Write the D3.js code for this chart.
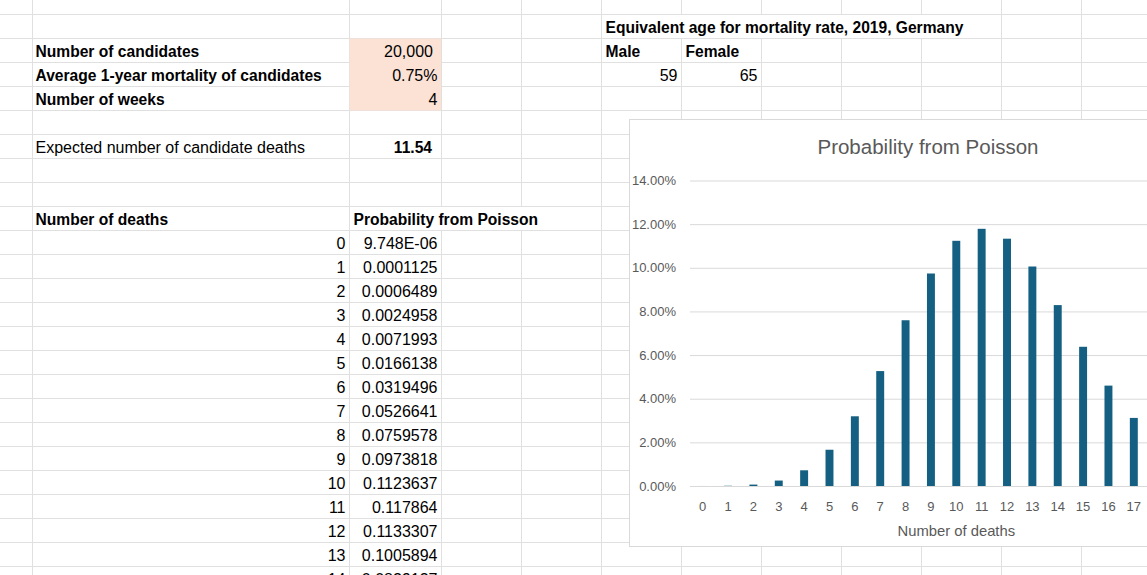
<!DOCTYPE html>
<html>
<head>
<meta charset="utf-8">
<script src="https://cdn.jsdelivr.net/npm/d3@7"></script>
<style>
  body { margin: 0; background: #fff; }
  svg { display: block; font-family: "Liberation Sans", Arial, sans-serif; }
</style>
</head>
<body>
<div id="sheet"></div>
<script>
// inputs block
var inputLabels = ["Number of candidates", "Average 1-year mortality of candidates", "Number of weeks"];
var inputValues = ["20,000", "0.75%", "4"];
var expectedLabel = "Expected number of candidate deaths";
var expectedValue = "11.54";

// equivalent age block
var ageTitle = "Equivalent age for mortality rate, 2019, Germany";
var ageHeaders = ["Male", "Female"];
var ageValues = ["59", "65"];

// table as shown in the cells
var tableDeaths = [0, 1, 2, 3, 4, 5, 6, 7, 8, 9, 10, 11, 12, 13, 14];
var tableProbs = ["9.748E-06", "0.0001125", "0.0006489", "0.0024958", "0.0071993",
    "0.0166138", "0.0319496", "0.0526641", "0.0759578", "0.0973818",
    "0.1123637", "0.117864", "0.1133307", "0.1005894", "0.0829137"];

// chart series
var deaths = ["0", "1", "2", "3", "4", "5", "6", "7", "8", "9", "10", "11", "12", "13", "14", "15", "16", "17"];
var probs = [0.000009748, 0.0001125, 0.0006489, 0.0024958, 0.0071993, 0.0166138,
    0.0319496, 0.0526641, 0.0759578, 0.0973818, 0.1123637, 0.117864,
    0.1133307, 0.1005894, 0.0829, 0.0638, 0.0460, 0.0312];
var yTicks = [0, 0.02, 0.04, 0.06, 0.08, 0.10, 0.12, 0.14];

var W = 1147, H = 575;
var colLines = [32, 349, 441, 521, 601, 681, 761, 841, 921, 1001, 1081];
var rowH = 24, row0 = 14.5;
function rowLine(k) { return row0 + rowH * k; }
function baseline(k) { return rowLine(k) - 5.5; }

var svg = d3.select("#sheet").append("svg")
    .attr("width", W)
    .attr("height", H);

var grid = svg.append("g").attr("stroke", "#e0e0e0").attr("stroke-width", 1);

// horizontal cell lines
for (var k = 0; k < 24; k++) {
    grid.append("line")
        .attr("x1", 0).attr("x2", W)
        .attr("y1", rowLine(k)).attr("y2", rowLine(k));
}

// vertical cell lines, skipped where text overflows into a neighbour
function hidden(x, k) {
    if (k === 1 && x > 601 && x < 1001) return true;     // Equivalent age...
    if (k === 9 && (x === 441 || x === 521)) return true; // Probability from Poisson
    return false;
}
colLines.forEach(function(x) {
    for (var k = 0; k < 25; k++) {
        if (hidden(x, k)) continue;
        var y1 = k === 0 ? 0 : rowLine(k - 1);
        var y2 = Math.min(rowLine(k), H);
        grid.append("line")
            .attr("x1", x + 0.5).attr("x2", x + 0.5)
            .attr("y1", y1).attr("y2", y2);
    }
});

// peach input cells
svg.append("rect")
    .attr("x", 349.5).attr("y", rowLine(1))
    .attr("width", 91.5).attr("height", rowH * 3)
    .attr("fill", "#fbe2d5");

var cells = svg.append("g").attr("font-size", "16px").attr("fill", "#000");

function cell(x, k, txt, anchor, bold) {
    cells.append("text")
        .attr("x", x)
        .attr("y", baseline(k))
        .attr("text-anchor", anchor || "start")
        .attr("font-weight", bold ? "bold" : "normal")
        .attr("font-size", bold ? "15.6px" : "16px")
        .text(txt);
}

inputLabels.forEach(function(d, i) { cell(35.5, i + 2, d, "start", true); });
inputValues.forEach(function(d, i) { cell(i === 0 ? 433 : 437.5, i + 2, d, "end", false); });
cell(35.5, 6, expectedLabel, "start", false);
cell(432, 6, expectedValue, "end", true);

cell(605.5, 1, ageTitle, "start", true);
cell(605.5, 2, ageHeaders[0], "start", true);
cell(685.5, 2, ageHeaders[1], "start", true);
cell(677.5, 3, ageValues[0], "end", false);
cell(757.5, 3, ageValues[1], "end", false);

cell(35.5, 9, "Number of deaths", "start", true);
cell(353.5, 9, "Probability from Poisson", "start", true);
tableDeaths.forEach(function(d, i) {
    cell(345.5, 10 + i, d, "end", false);
    cell(437.5, 10 + i, tableProbs[i], "end", false);
});

// ---- chart ----
var chart = svg.append("g");
chart.append("rect")
    .attr("x", 629.5).attr("y", 119.5)
    .attr("width", 600).attr("height", 427)
    .attr("fill", "#fff")
    .attr("stroke", "#d9d9d9");

var plotLeft = 690, plotRight = 1146.5;
var x = d3.scaleBand()
    .domain(deaths)
    .range([plotLeft, plotRight])
    .paddingInner(0.6865)
    .paddingOuter(0.34325);

var y = d3.scaleLinear()
    .domain([0, 0.14])
    .range([486, 180.5]);

var yAxisCall = d3.axisLeft(y)
    .tickValues(yTicks)
    .tickFormat(d3.format(".2%"))
    .tickSizeInner(-(W - plotLeft))
    .tickSizeOuter(0)
    .tickPadding(14);

var yAxisGroup = chart.append("g")
    .attr("transform", "translate(" + plotLeft + ",0)")
    .call(yAxisCall);
yAxisGroup.select(".domain").remove();
yAxisGroup.selectAll(".tick line").attr("stroke", "#d9d9d9");
yAxisGroup.selectAll(".tick text")
    .attr("fill", "#595959")
    .attr("font-size", "13px")
    .attr("font-family", "Liberation Sans, Arial, sans-serif");

var xAxisCall = d3.axisBottom(x)
    .tickSize(0)
    .tickPadding(15.5);

var xAxisGroup = chart.append("g")
    .attr("transform", "translate(0,486)")
    .call(xAxisCall);
xAxisGroup.select(".domain").remove();
xAxisGroup.selectAll(".tick text")
    .attr("fill", "#595959")
    .attr("font-size", "13px")
    .attr("font-family", "Liberation Sans, Arial, sans-serif");

chart.selectAll("rect.bar")
    .data(probs)
    .enter()
    .append("rect")
    .attr("class", "bar")
    .attr("x", function(d, i) { return x(deaths[i]); })
    .attr("y", function(d) { return y(d); })
    .attr("width", x.bandwidth())
    .attr("height", function(d) { return y(0) - y(d); })
    .attr("fill", "#156082");

// Title
chart.append("text")
    .attr("x", 928)
    .attr("y", 154.3)
    .attr("text-anchor", "middle")
    .attr("font-size", "20.5px")
    .attr("fill", "#595959")
    .text("Probability from Poisson");

// X Label
chart.append("text")
    .attr("x", 956.3)
    .attr("y", 536)
    .attr("text-anchor", "middle")
    .attr("font-size", "14.8px")
    .attr("fill", "#595959")
    .text("Number of deaths");
</script>
</body>
</html>
